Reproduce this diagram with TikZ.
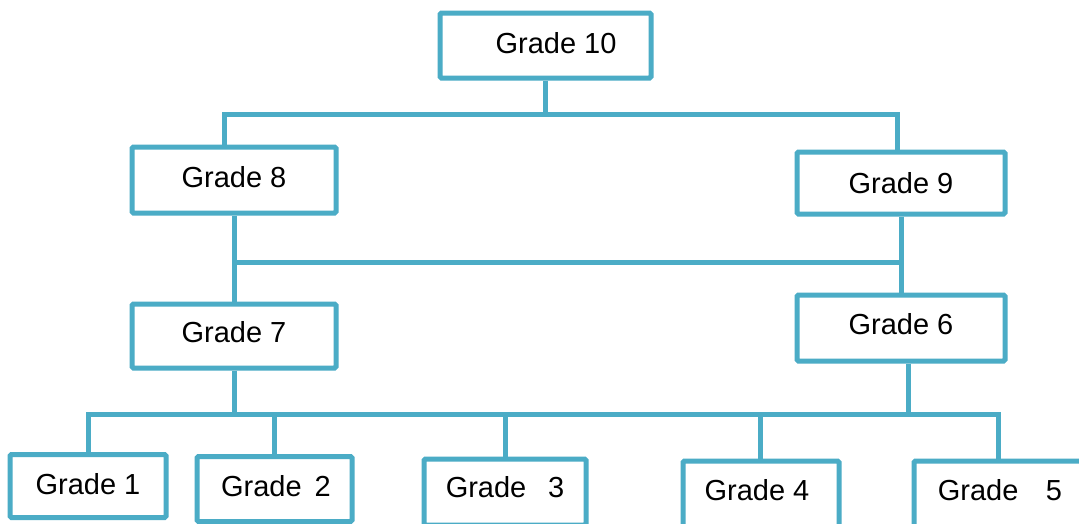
\documentclass[tikz,border=0pt]{standalone}
\usepackage{fontspec}
\setmainfont{Liberation Sans}
\definecolor{boxline}{RGB}{75,172,198}
\begin{document}
\begin{tikzpicture}[x=1pt,y=-1pt,
  gbox/.style={draw=boxline, line width=5pt, rounded corners=1.5pt, fill=white,
    inner sep=0pt, minimum width=#1},
  gtext/.style={anchor=base, inner sep=0pt, font=\fontsize{29}{34}\selectfont},
  link/.style={draw=boxline, line width=5pt}]
\clip (0,0) rectangle (1079,523);
\fill[white] (0,0) rectangle (1079,523);

% junction points of the connecting buses
\coordinate (aL) at (224,114);
\coordinate (aR) at (897,114);
\coordinate (bL) at (234,262);
\coordinate (bR) at (901,262);
\coordinate (cL) at (88,414);
\coordinate (cR) at (998,414);

% boxes
\node[gbox=211pt, minimum height=65pt] (g10) at (545.5,45.5) {};
\node[gbox=204pt, minimum height=66pt] (g8) at (234,180) {};
\node[gbox=208pt, minimum height=62pt] (g9) at (901,183) {};
\node[gbox=204pt, minimum height=64pt] (g7) at (234,336) {};
\node[gbox=208pt, minimum height=66pt] (g6) at (901,328) {};
\node[gbox=156pt, minimum height=63pt] (g1) at (88,486) {};
\node[gbox=155pt, minimum height=65pt] (g2) at (274.5,489) {};
\node[gbox=162pt, minimum height=66pt] (g3) at (505,492) {};
\node[gbox=156pt, minimum height=66pt] (g4) at (761,494) {};
\node[gbox=186pt, minimum height=66pt] (g5) at (1007,494) {};

% top level
\draw[link] (g10.south) -- (g10.south |- aL);
\draw[link] (g8.north -| aL) -- (aL) -- (aR) -- (g9.north -| aR);
% middle level
\draw[link] (g8.south -| bL) -- (g7.north -| bL);
\draw[link] (bL) -- (bR);
\draw[link] (g9.south -| bR) -- (g6.north -| bR);
% bottom level
\draw[link] (g7.south) -- (g7.south |- cL);
\draw[link] ([xshift=7pt]g6.south) -- ([xshift=7pt]g6.south |- cL);
\draw[link] (g1.north -| cL) -- (cL) -- (cR) -- (g5.north -| cR);
\draw[link] (g2.north) -- (g2.north |- cL);
\draw[link] (g3.north) -- (g3.north |- cL);
\draw[link] ([xshift=-1pt]g4.north) -- ([xshift=-1pt]g4.north |- cL);

% labels
\node[gtext] (t10) at (556,53.5) {Grade 10};
\node[gtext] (t8) at (234,187.5) {Grade 8};
\node[gtext] (t9) at (901,193.5) {Grade 9};
\node[gtext] (t7) at (234,342.5) {Grade 7};
\node[gtext] (t6) at (901,334.5) {Grade 6};
\node[gtext] (t1) at (88,494.5) {Grade 1};
\node[gtext] (t2) at (276,496.5) {Grade\hspace{0.45em}2};
\node[gtext] (t3) at (505,497.5) {Grade\hspace{0.75em}3};
\node[gtext] (t4) at (757,500.5) {Grade 4};
\node[gtext] (t5) at (1000,500.5) {Grade\hspace{0.95em}5};
\end{tikzpicture}
\end{document}
